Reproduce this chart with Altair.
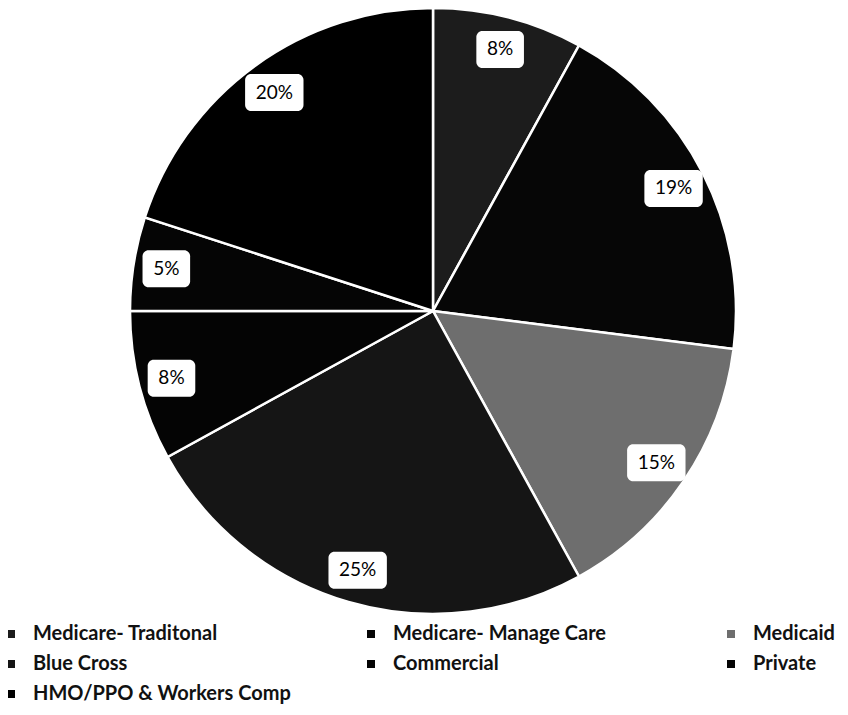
import altair as alt
import pandas as pd

categories = ["Medicare- Traditonal", "Medicare- Manage Care", "Medicaid",
              "Blue Cross", "Commercial", "Private", "HMO/PPO & Workers Comp"]
values = [8, 19, 15, 25, 8, 5, 20]
labels = ["8%", "19%", "15%", "25%", "8%", "5%", "20%"]
colors = ["#1c1c1c", "#060606", "#6e6e6e", "#151515", "#040404", "#050505", "#000000"]

# legend entry order (Vega fills the 3-column grid column-wise)
legend_order = ["Medicare- Traditonal", "Blue Cross", "Private", "Medicare- Manage Care",
                "Commercial", "HMO/PPO & Workers Comp", "Medicaid"]
color_of = dict(zip(categories, colors))

df = pd.DataFrame({"category": categories, "value": values, "label": labels,
                   "order": list(range(len(categories)))})

W, H = 832, 699
CX, CY, R = 425, 303, 303
LR = 270

color = alt.Color(
    "category:N",
    scale=alt.Scale(domain=legend_order, range=[color_of[c] for c in legend_order]),
    legend=alt.Legend(
        title=None, orient="none", legendX=-7, legendY=616, padding=0, columns=3,
        columnPadding=70, rowPadding=10, symbolType="square", symbolSize=64,
        symbolStrokeWidth=0, labelFont="Lato", labelFontSize=20,
        labelFontWeight="bold", labelColor="#111111", labelOffset=12,
        labelLimit=400, gridAlign="all",
    ),
)

base = alt.Chart(df)

pie = base.mark_arc(outerRadius=R, stroke="white", strokeWidth=2.5).encode(
    theta=alt.Theta("value:Q", stack=True),
    color=color,
    order=alt.Order("order:Q"),
    x=alt.value(CX),
    y=alt.value(CY),
)

lab = (
    base.transform_joinaggregate(total="sum(value)")
    .transform_window(cum="sum(value)", sort=[alt.SortField("order")], frame=[None, 0])
    .transform_calculate(ang="2*PI*(datum.cum - datum.value/2)/datum.total")
    .transform_calculate(px=f"{CX} + {LR}*sin(datum.ang)")
    .transform_calculate(py=f"{CY} - {LR}*cos(datum.ang)")
    .transform_calculate(hw="5.4*length(datum.label) + 13")
    .transform_calculate(x1="datum.px - datum.hw")
    .transform_calculate(x2="datum.px + datum.hw")
    .transform_calculate(y1="datum.py - 18.5")
    .transform_calculate(y2="datum.py + 18.5")
)

xs = alt.Scale(domain=[0, W], nice=False, zero=False)
ys = alt.Scale(domain=[0, H], reverse=True, nice=False, zero=False)

boxes = lab.mark_rect(color="white", cornerRadius=6).encode(
    x=alt.X("x1:Q", scale=xs, axis=None),
    x2="x2:Q",
    y=alt.Y("y1:Q", scale=ys, axis=None),
    y2="y2:Q",
)

texts = lab.mark_text(font="Lato", fontSize=19, color="black").encode(
    x=alt.X("px:Q", scale=xs, axis=None),
    y=alt.Y("py:Q", scale=ys, axis=None),
    text="label:N",
)

chart = (
    alt.layer(pie, boxes, texts)
    .properties(width=W, height=H, autosize=alt.AutoSizeParams(type="none"), padding=0)
    .configure_view(stroke=None)
)

chart.save("out.html", embed_options={"renderer": "svg", "actions": False})
